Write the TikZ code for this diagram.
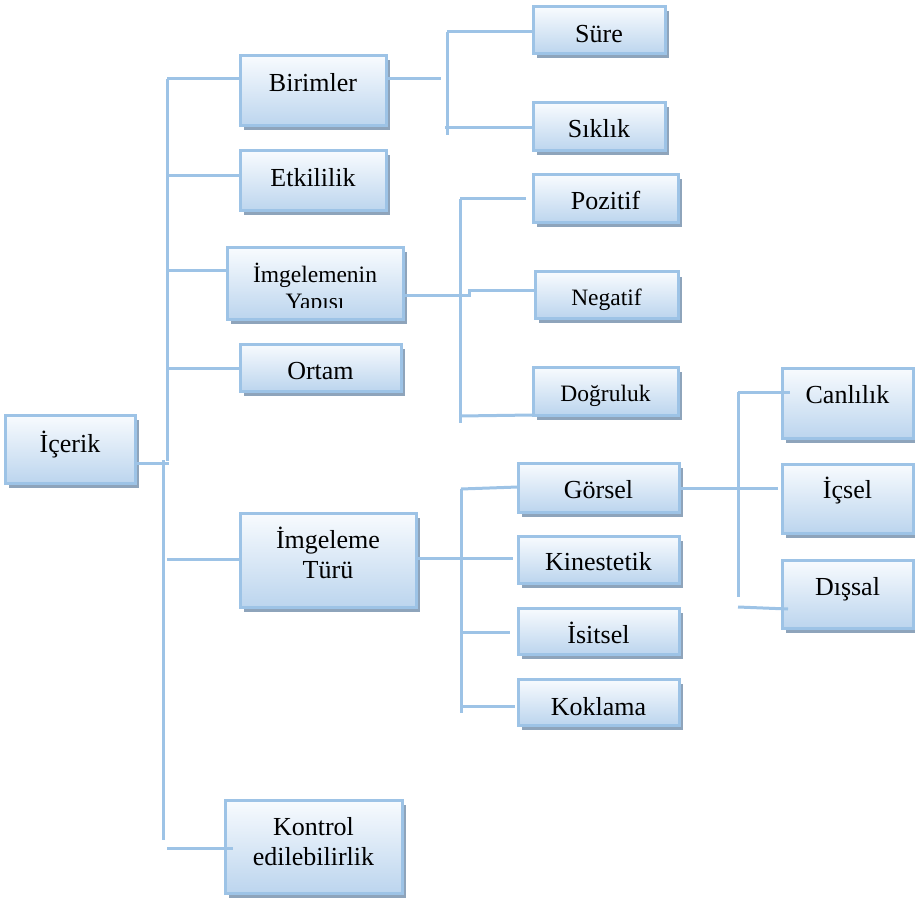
\documentclass[tikz,border=0pt]{standalone}
\usepackage{fontspec}
\setmainfont{Liberation Serif}
\usetikzlibrary{shadows}

\definecolor{linkblue}{HTML}{9DC3E6}
\definecolor{boxedge}{HTML}{9DC3E6}
\definecolor{boxtop}{HTML}{F8FBFE}
\definecolor{boxbot}{HTML}{BCD5EE}
\definecolor{boxshade}{HTML}{8EA4BB}

\tikzset{
  box/.style={draw=boxedge, line width=3pt, rectangle, inner sep=0pt, outer sep=0pt,
    top color=boxtop, bottom color=boxbot,
    general shadow={shadow xshift=3.5pt, shadow yshift=-4.5pt, fill=boxshade}},
  txt/.style={inner sep=0pt, anchor=base, font=\fontsize{26}{30}\selectfont},
  smalltxt/.style={txt, font=\fontsize{23.5}{27}\selectfont},
  link/.style={draw=linkblue, line width=3pt}
}

% \mkbox[text style]{name}{x1}{y1}{x2}{y2}{baseline}{text}
\newcommand\mkbox[8][txt]{%
  \node[box, minimum width=#5pt-#3pt, minimum height=#6pt-#4pt]
    (#2) at ({(#3+#5)/2},{(#4+#6)/2}) {};
  \node[#1] (#2-t) at ({(#3+#5)/2},#7) {#8};}

\begin{document}
\begin{tikzpicture}[x=1pt, y=-1pt]
\useasboundingbox (0,0) rectangle (915,901);

% boxes with their labels
\mkbox{icerik}{5}{415}{135}{483}{452}{İçerik}
\mkbox{birimler}{240}{56}{386}{126}{92}{Birimler}
\mkbox{etkililik}{240}{151}{386}{211}{187}{Etkililik}
\mkbox[smalltxt]{yapisi}{227}{248}{403}{319}{282}{İmgelemenin}
\mkbox{ortam}{240}{344}{401}{391}{379}{Ortam}
\mkbox{tur}{240}{513}{416}{607}{548}{İmgeleme}
\node[txt] (tur-t2) at (328,578) {Türü};
\mkbox{kontrol}{225}{800}{402}{893}{835}{Kontrol}
\node[txt] (kontrol-t2) at (313.5,865) {edilebilirlik};

\mkbox{sure}{533}{7}{665}{54}{43}{Süre}
\mkbox{siklik}{533}{103}{665}{151}{138}{Sıklık}

\mkbox{pozitif}{533}{175}{678}{223}{210}{Pozitif}
\mkbox[smalltxt]{negatif}{535}{272}{678}{318}{305}{Negatif}
\mkbox[smalltxt]{dogruluk}{533}{367}{678}{415}{401}{Doğruluk}

\mkbox{gorsel}{518}{463}{679}{512}{498}{Görsel}
\mkbox{kinestetik}{518}{536}{679}{583}{570}{Kinestetik}
\mkbox{isitsel}{518}{608}{679}{654}{643}{İsitsel}
\mkbox{koklama}{518}{679}{679}{725}{715}{Koklama}

\mkbox{canlilik}{782}{368}{913}{438}{403}{Canlılık}
\mkbox{icsel}{782}{464}{913}{533}{498}{İçsel}
\mkbox{dissal}{782}{560}{913}{628}{595}{Dışsal}

% second line of the label, cut off by the text area of its box
\begin{scope}
  \clip (229,250) rectangle (401,307.5);
  \node[smalltxt] (yapisi-t2) at (315,309) {Yapısı};
\end{scope}

% main trunk
\coordinate (ta) at (167,79);
\coordinate (tb) at (167,461);
\coordinate (tc) at (163,460);
\coordinate (td) at (163,840);
\draw[link] (ta) -- (tb);
\draw[link] (tc) -- (td);
\draw[link] (icerik.east |- 0,463) -- (169,463);
\draw[link] (ta) -- (ta -| birimler.west);
\draw[link] (167,176) -- (167,176 -| etkililik.west);
\draw[link] (167,271) -- (167,271 -| yapisi.west);
\draw[link] (167,368) -- (167,368 -| ortam.west);
\draw[link] (167,559) -- (167,559 -| tur.west);
\coordinate (ke) at (167,848);
\draw[link] (ke) -- ([xshift=8pt]ke -| kontrol.west);

% Birimler branch
\coordinate (ba) at (447,32);
\coordinate (bb) at (447,135);
\draw[link] (birimler.east |- 0,79) -- (441,79);
\draw[link] (ba) -- (bb);
\draw[link] (ba) -- (ba -| sure.west);
\draw[link] (445,128) -- (445,128 -| siklik.west);

% İmgelemenin Yapısı branch
\coordinate (ya) at (460,199);
\coordinate (yb) at (460,423);
\draw[link] (ya) -- (yb);
\draw[link] (yapisi.east |- 0,295) -- (469,295) -- (469,290) -- (469,290 -| negatif.west);
\draw[link] (ya) -- (526,199);
\draw[link] (460,416) -- (dogruluk.south west);

% İmgeleme Türü branch
\coordinate (ga) at (461,489);
\coordinate (gb) at (461,713);
\draw[link] (ga) -- (gb);
\draw[link] (tur.east |- 0,558) -- (513,558);
\draw[link] (ga) -- (gorsel.west |- 0,487);
\draw[link] (461,632) -- (510,632);
\draw[link] (461,706) -- (515,706);

% Görsel branch
\coordinate (ca) at (738,392);
\coordinate (cb) at (738,597);
\draw[link] (gorsel.east |- 0,488) -- (778,488);
\draw[link] (ca) -- (cb);
\draw[link] (ca) -- ([xshift=8pt]ca -| canlilik.west);
\draw[link] (738,607) -- (788,609);
\end{tikzpicture}
\end{document}
